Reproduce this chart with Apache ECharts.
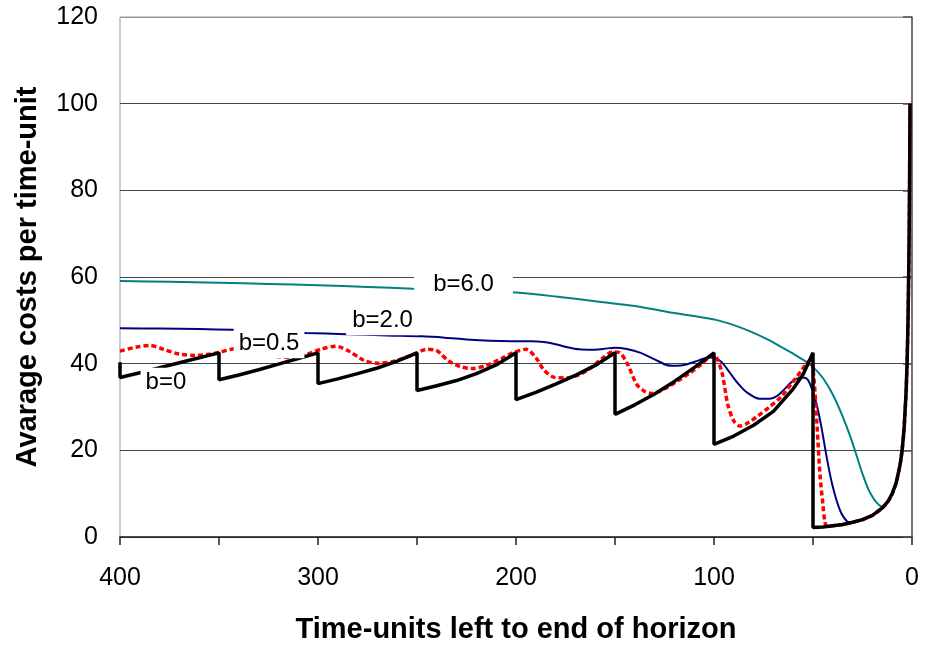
<!DOCTYPE html>
<html>
<head>
<meta charset="utf-8">
<script src="https://cdn.jsdelivr.net/npm/echarts@6/dist/echarts.min.js"></script>
<style>
html,body{margin:0;padding:0;background:#fff;}
#chart{width:926px;height:649px;}
</style>
</head>
<body>
<div id="chart"></div>
<script>
// Data: [time-units left, average cost]
var seriesNames = ['b=6.0', 'b=2.0', 'b=0.5', 'b=0'];

var costB6 = [[400,59.1],[375,58.9],[350,58.7],[325,58.4],[300,58.1],[275,57.7],[252,57.3],[225,56.9],[200,56.4],[180,55.5],[158,54.3],[140,53.3],[124,52.0],[110,51.0],[99,50.1],[90,48.9],[82,47.5],[73,45.6],[65,43.6],[60,42.3],[55,40.9],[50,39.2],[45,36.7],[40,32.9],[35,27.8],[31,23.0],[28,18.8],[25,14.6],[22,11.0],[19,8.6],[16.5,7.3],[15,7.0],[13,7.6],[12,8.3],[10,10],[8,12.5],[6,16.7],[5,20],[4,25],[3,33.3],[2.5,40],[2,50],[1.5,66.7],[1.2,83.3],[1,100]];

var costB2 = [[400,48.2],[380,48.1],[360,48.0],[343,47.8],[320,47.4],[306,47.1],[286,46.8],[265,46.5],[248,46.3],[236,46.0],[225,45.6],[213,45.3],[203,45.2],[192,45.2],[186,45.0],[180,44.5],[174,43.8],[168,43.3],[162,43.2],[156,43.4],[150,43.7],[144,43.4],[137,42.5],[130,41.0],[124,39.7],[119,39.5],[114,39.8],[108,40.7],[103,41.4],[99,41.2],[96,40.3],[92,37.9],[88,35.5],[83.5,33.4],[77,31.9],[72,31.9],[68,32.6],[64,34.3],[61,35.7],[56,36.8],[53,36.5],[51.5,35.3],[50,33.5],[48,30.3],[46,26],[43,18.2],[40.5,12.5],[38,8.3],[35.5,5.3],[33,3.7],[31,3.3],[30,3.4],[25,4.0],[20,5.0],[15,6.7],[12,8.3],[10,10],[8,12.5],[6,16.7],[5,20],[4,25],[3,33.3],[2.5,40],[2,50],[1.5,66.7],[1.2,83.3],[1,100]];

var costB05 = [[400,42.9],[392,43.8],[385,44.2],[378,43.3],[370,42.2],[362,41.9],[355,42.2],[350,42.6],[343,43.4],[336,43.6],[328,42.6],[320,41.6],[312,41.4],[306,42.1],[298,43.4],[291,44.0],[284,42.8],[277,40.8],[270,40.1],[262,40.5],[256,41.4],[251,42.3],[245,43.3],[240,43.0],[234,40.6],[228,39.3],[222,38.9],[215,39.6],[208,41.0],[201,42.6],[195,43.3],[190,41.4],[186,38.6],[181,36.9],[175,36.7],[169,37.3],[163,38.8],[157,41.0],[151,42.7],[148,42.6],[144,40.2],[139,35.2],[135,33.6],[131,33.1],[125,34.2],[118,36.1],[112,37.9],[106,40.0],[101,41.9],[99,41.6],[96,38.0],[93,30.5],[90,26.8],[87,25.6],[83,26.3],[78,27.9],[72,30.0],[66,32.4],[60,35.9],[56,38.3],[53,40.2],[51,40.8],[50,39.0],[48.5,30],[47.5,22],[46.5,14.5],[45,7.5],[44,3.5],[43,2.5],[40,2.6],[35,2.9],[30,3.4],[25,4.0],[20,5.0],[15,6.7],[12,8.3],[10,10],[8,12.5],[6,16.7],[5,20],[4,25],[3,33.3],[2.5,40],[2,50],[1.5,66.7],[1.2,83.3],[1,100]];

var costB0 = [[400,40.3],[400,36.8],[390,37.9],[378,39.3],[365,40.8],[350,42.5],[350,36.3],[340,37.4],[330,38.6],[320,39.9],[310,41.2],[300,42.5],[300,35.4],[290,36.5],[280,37.7],[270,39.0],[260,40.6],[250,42.5],[250,33.8],[240,34.9],[230,36.1],[220,37.7],[210,39.7],[200,42.5],[200,31.7],[190,33.4],[180,35.3],[170,37.3],[160,39.6],[150,42.5],[150,28.3],[140,30.5],[130,33.0],[120,35.9],[110,39.1],[100,42.5],[100,21.4],[90,23.3],[80,25.8],[70,29.0],[60,34.2],[55,37.5],[50,42.5],[50,2.2],[45,2.3],[40,2.6],[35,2.9],[30,3.4],[25,4.0],[20,5.0],[15,6.7],[12,8.3],[10,10],[8,12.5],[6,16.7],[5,20],[4,25],[3,33.3],[2.5,40],[2,50],[1.5,66.7],[1.2,83.3],[1,100]];

// In-chart labels: anchor [time, cost], text and horizontal box padding
var labelText = ['b=6.0', 'b=2.0', 'b=0.5', 'b=0'];
var labelT = [226.5, 267.4, 324.7, 376.8];
var labelY = [58.2, 50.0, 44.7, 35.6];
var labelPadX = [19, 6, 5, 5];

var xTicks = [0, 100, 200, 300, 400];

var FONT = '"Liberation Sans", Arial, sans-serif';
var chart = echarts.init(document.getElementById('chart'), null, {renderer: 'canvas'});

var option = {
  animation: false,
  backgroundColor: '#fff',
  grid: {left: 120, right: 14, top: 17, bottom: 105, show: true, borderColor: '#999', borderWidth: 1},
  xAxis: {
    type: 'value', inverse: true, min: 0, max: 400, interval: 50,
    name: 'Time-units left to end of horizon', nameLocation: 'middle', nameGap: 78,
    nameTextStyle: {fontFamily: FONT, fontSize: 29, fontWeight: 'bold', color: '#000'},
    axisLine: {onZero: false, lineStyle: {color: '#222', width: 1.5}},
    axisTick: {show: true, inside: false, length: 8, lineStyle: {color: '#222', width: 1.5}},
    axisLabel: {
      fontFamily: FONT, fontSize: 25, color: '#000', margin: 29,
      formatter: function (v) { return xTicks.indexOf(v) >= 0 ? String(v) : ''; }
    },
    splitLine: {show: false}
  },
  yAxis: {
    type: 'value', min: 0, max: 120, interval: 20,
    name: 'Avarage costs per time-unit', nameLocation: 'middle', nameGap: 78,
    nameTextStyle: {fontFamily: FONT, fontSize: 29, fontWeight: 'bold', color: '#000'},
    axisLine: {show: true, lineStyle: {color: '#555', width: 1.5}},
    axisTick: {show: true, inside: false, length: 9, lineStyle: {color: '#555', width: 1.5}},
    axisLabel: {fontFamily: FONT, fontSize: 25, color: '#000', margin: 22},
    splitLine: {show: true, lineStyle: {color: ['#444', '#444', '#444', '#444', '#444', '#444', '#999'], width: 1}}
  },
  series: [
    {name: seriesNames[0], type: 'line', data: costB6, showSymbol: false, symbol: 'none', smooth: 0.3, z: 2,
     lineStyle: {color: '#008080', width: 2}},
    {name: seriesNames[1], type: 'line', data: costB2, showSymbol: false, symbol: 'none', smooth: 0.3, z: 3,
     lineStyle: {color: '#000080', width: 2}},
    {name: seriesNames[2], type: 'line', data: costB05, showSymbol: false, symbol: 'none', smooth: 0.3, z: 4,
     lineStyle: {color: '#ff0000', width: 3.5, type: [5, 3]}},
    {name: seriesNames[3], type: 'line', data: costB0, showSymbol: false, symbol: 'none', z: 5,
     lineStyle: {color: '#000', width: 3.5}}
  ]
};
chart.setOption(option);

var graphics = labelText.map(function (txt, i) {
  var p = chart.convertToPixel({gridIndex: 0}, [labelT[i], labelY[i]]);
  return {
    type: 'text', x: p[0], y: p[1], z: 100, silent: true,
    style: {
      text: txt, fill: '#000', font: '24px ' + FONT,
      align: 'center', verticalAlign: 'middle',
      backgroundColor: '#fff', padding: [3, labelPadX[i], 3, labelPadX[i]]
    }
  };
});
chart.setOption({graphic: graphics});
</script>
</body>
</html>
